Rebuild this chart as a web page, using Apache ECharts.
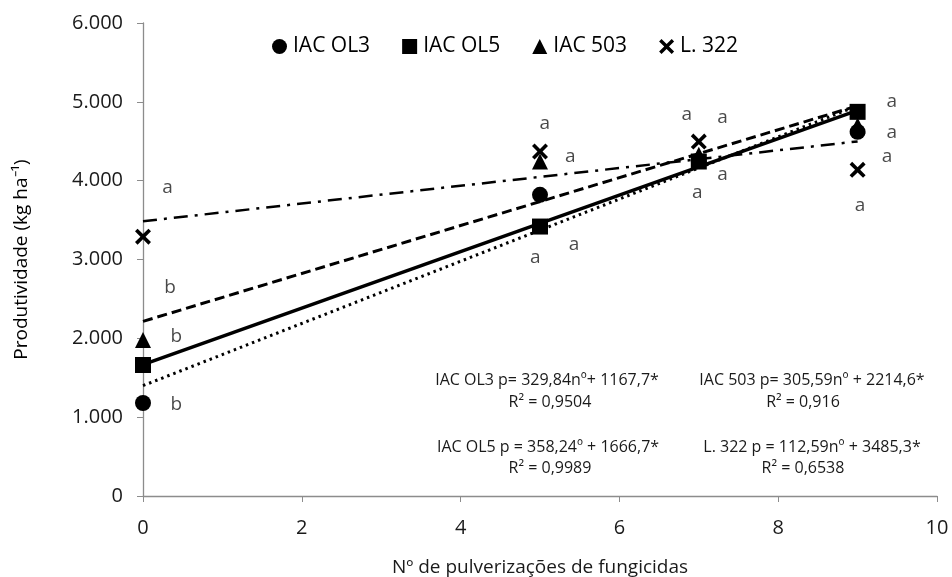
<!DOCTYPE html>
<html>
<head>
<meta charset="utf-8">
<script src="https://cdn.jsdelivr.net/npm/echarts@6/dist/echarts.min.js"></script>
<style>html,body{margin:0;padding:0;background:#fff}#c{width:952px;height:577px}</style>
</head>
<body>
<div id="c"></div>
<script>
const xValues = [0, 5, 7, 9];
const iacOL3 = [1180, 3820, 4250, 4620];
const iacOL5 = [1662, 3418, 4243, 4873];
const iac503 = [1980, 4243, 4330, 4700];
const l322 = [3290, 4370, 4496, 4137];
const trendX = [0, 9];
const trendOL3 = [1400, 4950];
const trendOL5 = [1667, 4891];
const trend503 = [2215, 4950];
const trend322 = [3485, 4498];
const letterX = [0.31, 0.34, 0.42, 0.42, 5.06, 5.38, 4.94, 5.43, 6.85, 7.30, 7.30, 6.98, 9.43, 9.43, 9.37, 9.03];
const letterY = [3909, 2640, 2018, 1155, 4721, 4302, 3020, 3185, 4835, 4797, 4074, 3845, 5000, 4607, 4302, 3680];
const letterText = ['a','b','b','b','a','a','a','a','a','a','a','a','a','a','a','a'];
const seriesNames = ['IAC OL3', 'IAC OL5', 'IAC 503', 'L. 322'];
const equations = [
  'IAC OL3 p= 329,84nº+ 1167,7*', 'R² = 0,9504',
  'IAC 503 p= 305,59nº + 2214,6*', 'R² = 0,916',
  'IAC OL5 p = 358,24º + 1666,7*', 'R² = 0,9989',
  'L. 322 p = 112,59nº + 3485,3*', 'R² = 0,6538'
];
const yTickLabels = ['0', '1.000', '2.000', '3.000', '4.000', '5.000', '6.000'];

const FONT = 'Open Sans';
const TXT = '#1a1a1a';
const xSym = 'path://M0,1.6L1.6,0L5,3.4L8.4,0L10,1.6L6.6,5L10,8.4L8.4,10L5,6.6L1.6,10L0,8.4L3.4,5Z';
const pts = arr => xValues.map((x, i) => [x, arr[i]]);
const tr = arr => trendX.map((x, i) => [x, arr[i]]);
const mk = { color: '#000', opacity: 1 };

const chart = echarts.init(document.getElementById('c'));
const eqPos = [[547,380],[550,402],[812,380],[803,402],[548,447],[550,468],[812,447],[803,468]];
chart.setOption({
  animation: false,
  textStyle: { fontFamily: FONT },
  grid: { left: 143, right: 15, top: 23, bottom: 81, containLabel: false, outerBoundsMode: 'none' },
  legend: {
    data: [
      { name: seriesNames[0], icon: 'circle' },
      { name: seriesNames[1], icon: 'rect' },
      { name: seriesNames[2], icon: 'triangle' },
      { name: seriesNames[3], icon: xSym }
    ],
    top: 31, left: 267,
    itemWidth: 15, itemHeight: 15, itemGap: 32,
    itemStyle: { opacity: 1, color: '#000' },
    textStyle: { fontFamily: FONT, fontSize: 21, color: '#000', padding: [0,0,0,1] }
  },
  xAxis: {
    type: 'value', min: 0, max: 10, interval: 2,
    name: 'Nº de pulverizações de fungicidas', nameLocation: 'middle', nameGap: 62,
    nameTextStyle: { fontFamily: FONT, fontSize: 19, color: TXT },
    axisLine: { lineStyle: { color: '#8c8c8c', width: 1.3 } },
    axisTick: { show: true, length: 6, lineStyle: { color: '#8c8c8c' } },
    axisLabel: { fontFamily: FONT, fontSize: 20, color: TXT, margin: 22 },
    splitLine: { show: false }
  },
  yAxis: {
    type: 'value', min: 0, max: 6000, interval: 1000,
    name: 'Produtividade (kg ha⁻¹)', nameLocation: 'middle', nameGap: 112, nameRotate: 90,
    nameTextStyle: { fontFamily: FONT, fontSize: 19, color: '#000' },
    axisLine: { show: true, lineStyle: { color: '#8c8c8c', width: 1.3 } },
    axisTick: { show: true, length: 6, lineStyle: { color: '#8c8c8c' } },
    axisLabel: { fontFamily: FONT, fontSize: 20, color: TXT, margin: 20,
      formatter: v => yTickLabels[Math.round(v / 1000)] },
    splitLine: { show: false }
  },
  graphic: equations.map((t, i) => ({
    type: 'text', x: eqPos[i][0], y: eqPos[i][1],
    style: { text: t, fontFamily: FONT, fontSize: 16, fill: TXT, textAlign: 'center', textVerticalAlign: 'middle' }
  })),
  series: [
    { type: 'line', data: tr(trendOL3), symbol: 'none', silent: true, z: 2,
      lineStyle: { color: '#000', width: 3, type: [2.5, 4] } },
    { type: 'line', data: tr(trendOL5), symbol: 'none', silent: true, z: 2,
      lineStyle: { color: '#000', width: 3.5, type: 'solid' } },
    { type: 'line', data: tr(trend503), symbol: 'none', silent: true, z: 2,
      lineStyle: { color: '#000', width: 3, type: [10, 5] } },
    { type: 'line', data: tr(trend322), symbol: 'none', silent: true, z: 2,
      lineStyle: { color: '#000', width: 2.5, type: [14, 7, 3, 7] } },
    { name: seriesNames[0], type: 'scatter', data: pts(iacOL3), symbol: 'circle', symbolSize: 16, itemStyle: mk, z: 3 },
    { name: seriesNames[1], type: 'scatter', data: pts(iacOL5), symbol: 'rect', symbolSize: 16, itemStyle: mk, z: 3 },
    { name: seriesNames[2], type: 'scatter', data: pts(iac503), symbol: 'triangle', symbolSize: 16, itemStyle: mk, z: 3 },
    { name: seriesNames[3], type: 'scatter', data: pts(l322), symbol: xSym, symbolSize: 16, itemStyle: mk, z: 3 },
    { type: 'scatter', silent: true, symbolSize: 0, z: 4,
      data: letterX.map((x, i) => ({ value: [x, letterY[i]], name: letterText[i] })),
      label: { show: true, position: 'inside', formatter: p => p.name,
        fontFamily: FONT, fontSize: 19, color: TXT } }
  ]
});
</script>
</body>
</html>
